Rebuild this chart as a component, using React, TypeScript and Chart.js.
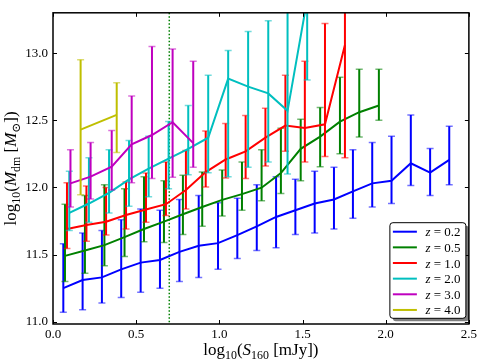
import React, { useEffect, useRef } from "react";
import { Chart, registerables } from "chart.js";

Chart.register(...registerables);

// ---------- axes ----------
const X_TICKS = [0.0, 0.5, 1.0, 1.5, 2.0, 2.5];
const Y_TICKS = [11.0, 11.5, 12.0, 12.5, 13.0];
const X_MIN = 0;
const X_MAX = 2.5;
const Y_MIN = 10.983;
const Y_MAX = 13.3;
const FLUX_CUT = 0.699;

// ---------- series ----------
const REDSHIFTS = ["0.2", "0.5", "1.0", "2.0", "3.0", "4.0"];
const COLORS = ["#0000ff", "#008000", "#ff0000", "#00bfbf", "#bf00bf", "#bfbf00"];

// z = 0.2
const xZ02 = [0.062, 0.178, 0.294, 0.41, 0.527, 0.643, 0.76, 0.876, 0.992, 1.108, 1.225, 1.341, 1.457, 1.573, 1.689, 1.803, 1.919, 2.035, 2.151, 2.267, 2.382];
const yZ02 = [11.25, 11.31, 11.33, 11.39, 11.44, 11.46, 11.52, 11.565, 11.585, 11.645, 11.71, 11.78, 11.83, 11.88, 11.91, 11.97, 12.03, 12.05, 12.18, 12.11, 12.205];
const upZ02 = [11.58, 11.66, 11.68, 11.76, 11.84, 11.83, 11.91, 11.94, 11.885, 11.92, 12.02, 12.08, 12.06, 12.12, 12.15, 12.28, 12.335, 12.38, 12.54, 12.29, 12.455];
const loZ02 = [11.07, 11.09, 11.14, 11.18, 11.22, 11.25, 11.3, 11.33, 11.39, 11.47, 11.53, 11.55, 11.65, 11.66, 11.69, 11.77, 11.855, 11.88, 12.015, 11.94, 12.02];

// z = 0.5
const xZ05 = [0.072, 0.192, 0.309, 0.43, 0.547, 0.667, 0.781, 0.897, 1.017, 1.136, 1.254, 1.37, 1.489, 1.606, 1.725, 1.841, 1.959];
const yZ05 = [11.49, 11.53, 11.57, 11.63, 11.69, 11.745, 11.8, 11.854, 11.907, 11.95, 11.998, 12.107, 12.287, 12.378, 12.49, 12.56, 12.61];
const upZ05 = [11.875, 11.94, 12.02, 11.99, 12.08, 12.05, 12.09, 12.114, 12.13, 12.19, 12.28, 12.44, 12.508, 12.594, 12.82, 12.88, 12.88];
const loZ05 = [11.3, 11.36, 11.416, 11.486, 11.595, 11.59, 11.65, 11.71, 11.787, 11.83, 11.9, 11.955, 12.05, 12.154, 12.25, 12.376, 12.5];

// z = 1.0
const xZ10 = [0.084, 0.201, 0.319, 0.439, 0.559, 0.679, 0.799, 0.918, 1.038, 1.158, 1.277, 1.397, 1.514, 1.635, 1.755];
const yZ10 = [11.69, 11.72, 11.745, 11.795, 11.835, 11.875, 11.98, 12.114, 12.208, 12.268, 12.37, 12.46, 12.443, 12.47, 13.06];
const upZ10 = [12.035, 12.01, 12.0, 12.04, 12.107, 12.19, 12.275, 12.42, 12.475, 12.535, 12.59, 12.835, 12.94, 13.22, 13.6];
const loZ10 = [11.546, 11.6, 11.645, 11.69, 11.74, 11.79, 11.84, 12.003, 12.07, 12.066, 12.16, 12.27, 12.19, 12.23, 12.22];

// z = 2.0
const xZ20 = [0.098, 0.216, 0.337, 0.457, 0.575, 0.695, 0.813, 0.933, 1.053, 1.173, 1.294, 1.41, 1.528];
const yZ20 = [11.81, 11.88, 11.96, 12.06, 12.14, 12.215, 12.287, 12.37, 12.81, 12.75, 12.7, 12.57, 13.4];
const upZ20 = [12.12, 12.22, 12.28, 12.35, 12.38, 12.49, 12.61, 12.835, 13.02, 13.16, 13.24, 13.6, 14.0];
const loZ20 = [11.68, 11.74, 11.81, 11.86, 11.93, 11.99, 12.095, 12.11, 12.08, 12.15, 12.19, 12.1, 12.8];

// z = 3.0
const xZ30 = [0.105, 0.226, 0.353, 0.473, 0.595, 0.719, 0.843];
const yZ30 = [12.03, 12.08, 12.155, 12.32, 12.39, 12.485, 12.33];
const upZ30 = [12.28, 12.335, 12.424, 12.68, 13.05, 13.03, 12.94];
const loZ30 = [11.855, 11.914, 11.98, 12.035, 12.066, 12.075, 12.15];

// z = 4.0
const xZ40 = [0.166, 0.383];
const yZ40 = [12.43, 12.54];
const upZ40 = [12.95, 12.78];
const loZ40 = [11.945, 12.26];

const SERIES = [
  { x: xZ02, y: yZ02, up: upZ02, lo: loZ02 },
  { x: xZ05, y: yZ05, up: upZ05, lo: loZ05 },
  { x: xZ10, y: yZ10, up: upZ10, lo: loZ10 },
  { x: xZ20, y: yZ20, up: upZ20, lo: loZ20 },
  { x: xZ30, y: yZ30, up: upZ30, lo: loZ30 },
  { x: xZ40, y: yZ40, up: upZ40, lo: loZ40 },
];

const FONT = '"Liberation Serif", "DejaVu Serif", serif';

type Seg = { t: string; it?: boolean; sub?: boolean };

function segFont(s: Seg, size: number) {
  const sz = s.sub ? size * 0.7 : size;
  return `${s.it ? "italic " : ""}${sz}px ${FONT}`;
}

function drawRich(ctx: CanvasRenderingContext2D, segs: Seg[], size: number, align: "center" | "left") {
  let total = 0;
  const widths = segs.map((s) => {
    ctx.font = segFont(s, size);
    const w = ctx.measureText(s.t).width;
    total += w;
    return w;
  });
  let x = align === "center" ? -total / 2 : 0;
  ctx.textBaseline = "alphabetic";
  ctx.textAlign = "left";
  segs.forEach((s, i) => {
    ctx.font = segFont(s, size);
    ctx.fillText(s.t, x, s.sub ? size * 0.24 : 0);
    x += widths[i];
  });
}

const X_TITLE: Seg[] = [
  { t: "log" },
  { t: "10", sub: true },
  { t: "(" },
  { t: "S", it: true },
  { t: "160", sub: true },
  { t: " [mJy])" },
];
const Y_TITLE: Seg[] = [
  { t: "log" },
  { t: "10", sub: true },
  { t: "(" },
  { t: "M", it: true },
  { t: "dm", sub: true },
  { t: " [" },
  { t: "M", it: true },
  { t: "⊙", sub: true },
  { t: "])" },
];

const errorBarPlugin = {
  id: "errorBars",
  beforeDatasetDraw(chart: any, args: any) {
    const ds = chart.data.datasets[args.index];
    if (!ds.errUp) return;
    const { ctx, chartArea: ca } = chart;
    const xs = chart.scales.x;
    const ys = chart.scales.y;
    ctx.save();
    ctx.beginPath();
    ctx.rect(ca.left, ca.top, ca.right - ca.left, ca.bottom - ca.top);
    ctx.clip();
    ctx.strokeStyle = ds.borderColor;
    ds.data.forEach((p: any, i: number) => {
      const px = xs.getPixelForValue(p.x);
      const pt = ys.getPixelForValue(ds.errUp[i]);
      const pb = ys.getPixelForValue(ds.errLo[i]);
      ctx.globalAlpha = 1;
      ctx.lineWidth = 2;
      ctx.beginPath();
      ctx.moveTo(px, pt);
      ctx.lineTo(px, pb);
      ctx.stroke();
      ctx.globalAlpha = 0.55;
      ctx.lineWidth = 1.5;
      ctx.beginPath();
      ctx.moveTo(px - 3.5, pt);
      ctx.lineTo(px + 3.5, pt);
      ctx.moveTo(px - 3.5, pb);
      ctx.lineTo(px + 3.5, pb);
      ctx.stroke();
    });
    ctx.restore();
  },
};

const cutLinePlugin = {
  id: "cutLine",
  beforeDatasetsDraw(chart: any) {
    const { ctx, chartArea: ca } = chart;
    const px = chart.scales.x.getPixelForValue(FLUX_CUT);
    ctx.save();
    ctx.strokeStyle = "#008000";
    ctx.lineWidth = 1.5;
    ctx.setLineDash([1.5, 2]);
    ctx.beginPath();
    ctx.moveTo(px, ca.top);
    ctx.lineTo(px, ca.bottom);
    ctx.stroke();
    ctx.restore();
  },
};

const framePlugin = {
  id: "frame",
  afterDraw(chart: any) {
    const { ctx, chartArea: ca } = chart;
    const xs = chart.scales.x;
    const ys = chart.scales.y;
    ctx.save();
    // ticks
    ctx.strokeStyle = "#000";
    ctx.lineWidth = 1;
    ctx.beginPath();
    X_TICKS.forEach((v) => {
      const px = Math.round(xs.getPixelForValue(v)) + 0.5;
      ctx.moveTo(px, ca.bottom);
      ctx.lineTo(px, ca.bottom - 4);
      ctx.moveTo(px, ca.top);
      ctx.lineTo(px, ca.top + 4);
    });
    Y_TICKS.forEach((v) => {
      const py = Math.round(ys.getPixelForValue(v)) + 0.5;
      ctx.moveTo(ca.left, py);
      ctx.lineTo(ca.left + 4, py);
      ctx.moveTo(ca.right, py);
      ctx.lineTo(ca.right - 4, py);
    });
    ctx.stroke();
    // frame
    ctx.lineWidth = 1.5;
    ctx.strokeRect(ca.left, ca.top, ca.right - ca.left, ca.bottom - ca.top);

    // axis titles
    ctx.fillStyle = "#000";
    ctx.save();
    ctx.translate((ca.left + ca.right) / 2, 355);
    drawRich(ctx, X_TITLE, 17, "center");
    ctx.restore();
    ctx.save();
    ctx.translate(15.5, (ca.top + ca.bottom) / 2);
    ctx.rotate(-Math.PI / 2);
    drawRich(ctx, Y_TITLE, 17, "center");
    ctx.restore();

    // legend
    const bw = 76;
    const bh = 95.6;
    const bx = ca.right - 3 - bw;
    const by = ca.bottom - 5.7 - bh;
    const r = 3;
    const rr = (x: number, y: number) => {
      ctx.beginPath();
      ctx.moveTo(x + r, y);
      ctx.lineTo(x + bw - r, y);
      ctx.quadraticCurveTo(x + bw, y, x + bw, y + r);
      ctx.lineTo(x + bw, y + bh - r);
      ctx.quadraticCurveTo(x + bw, y + bh, x + bw - r, y + bh);
      ctx.lineTo(x + r, y + bh);
      ctx.quadraticCurveTo(x, y + bh, x, y + bh - r);
      ctx.lineTo(x, y + r);
      ctx.quadraticCurveTo(x, y, x + r, y);
      ctx.closePath();
    };
    ctx.fillStyle = "rgba(0,0,0,0.5)";
    rr(bx + 3, by + 3);
    ctx.fill();
    ctx.fillStyle = "#fff";
    rr(bx, by);
    ctx.fill();
    ctx.strokeStyle = "#000";
    ctx.lineWidth = 1;
    ctx.stroke();
    chart.data.datasets.forEach((ds: any, k: number) => {
      const cy = by + 9 + k * 15.65;
      ctx.strokeStyle = ds.borderColor;
      ctx.lineWidth = 2;
      ctx.beginPath();
      ctx.moveTo(bx + 3, cy);
      ctx.lineTo(bx + 27, cy);
      ctx.stroke();
      ctx.fillStyle = "#000";
      ctx.save();
      ctx.translate(bx + 35.5, cy + 4.5);
      drawRich(ctx, [{ t: "z", it: true }, { t: " = " + REDSHIFTS[k] }], 13, "left");
      ctx.restore();
    });
    ctx.restore();
  },
};

export default function App() {
  const ref = useRef<HTMLCanvasElement | null>(null);
  useEffect(() => {
    if (!ref.current) return;
    const datasets = SERIES.map((s, k) => ({
      label: "z = " + REDSHIFTS[k],
      data: s.x.map((x, i) => ({ x, y: s.y[i] })),
      borderColor: COLORS[k],
      backgroundColor: COLORS[k],
      borderWidth: 2,
      pointRadius: 0,
      pointHoverRadius: 0,
      tension: 0,
      fill: false,
      order: SERIES.length - 1 - k,
      errUp: s.up,
      errLo: s.lo,
    }));
    const chart = new Chart(ref.current, {
      type: "line",
      data: { datasets } as any,
      options: {
        animation: false,
        responsive: false,
        devicePixelRatio: 1,
        layout: { padding: { top: 3, right: 11, left: 0, bottom: 0 } },
        plugins: { legend: { display: false }, tooltip: { enabled: false } },
        scales: {
          x: {
            type: "linear",
            min: X_MIN,
            max: X_MAX,
            grid: { display: false, drawTicks: false },
            border: { display: false },
            ticks: {
              color: "#000",
              padding: 3,
              maxRotation: 0,
              font: { family: FONT, size: 13 },
              callback: (v: any) => Number(v).toFixed(1),
            },
            afterBuildTicks: (s: any) => {
              s.ticks = X_TICKS.map((v) => ({ value: v }));
            },
            afterFit: (s: any) => {
              s.height = 37;
            },
          },
          y: {
            type: "linear",
            min: Y_MIN,
            max: Y_MAX,
            grid: { display: false, drawTicks: false },
            border: { display: false },
            ticks: {
              color: "#000",
              padding: 5,
              font: { family: FONT, size: 13 },
              callback: (v: any) => Number(v).toFixed(1),
            },
            afterBuildTicks: (s: any) => {
              s.ticks = Y_TICKS.map((v) => ({ value: v }));
            },
            afterFit: (s: any) => {
              s.width = 53;
            },
          },
        },
      } as any,
      plugins: [cutLinePlugin, errorBarPlugin, framePlugin],
    });
    return () => chart.destroy();
  }, []);
  return (
    <div style={{ position: "absolute", left: 0, top: 0, width: 480, height: 361, background: "#fff" }}>
      <canvas ref={ref} width={480} height={361} style={{ display: "block" }} />
    </div>
  );
}
